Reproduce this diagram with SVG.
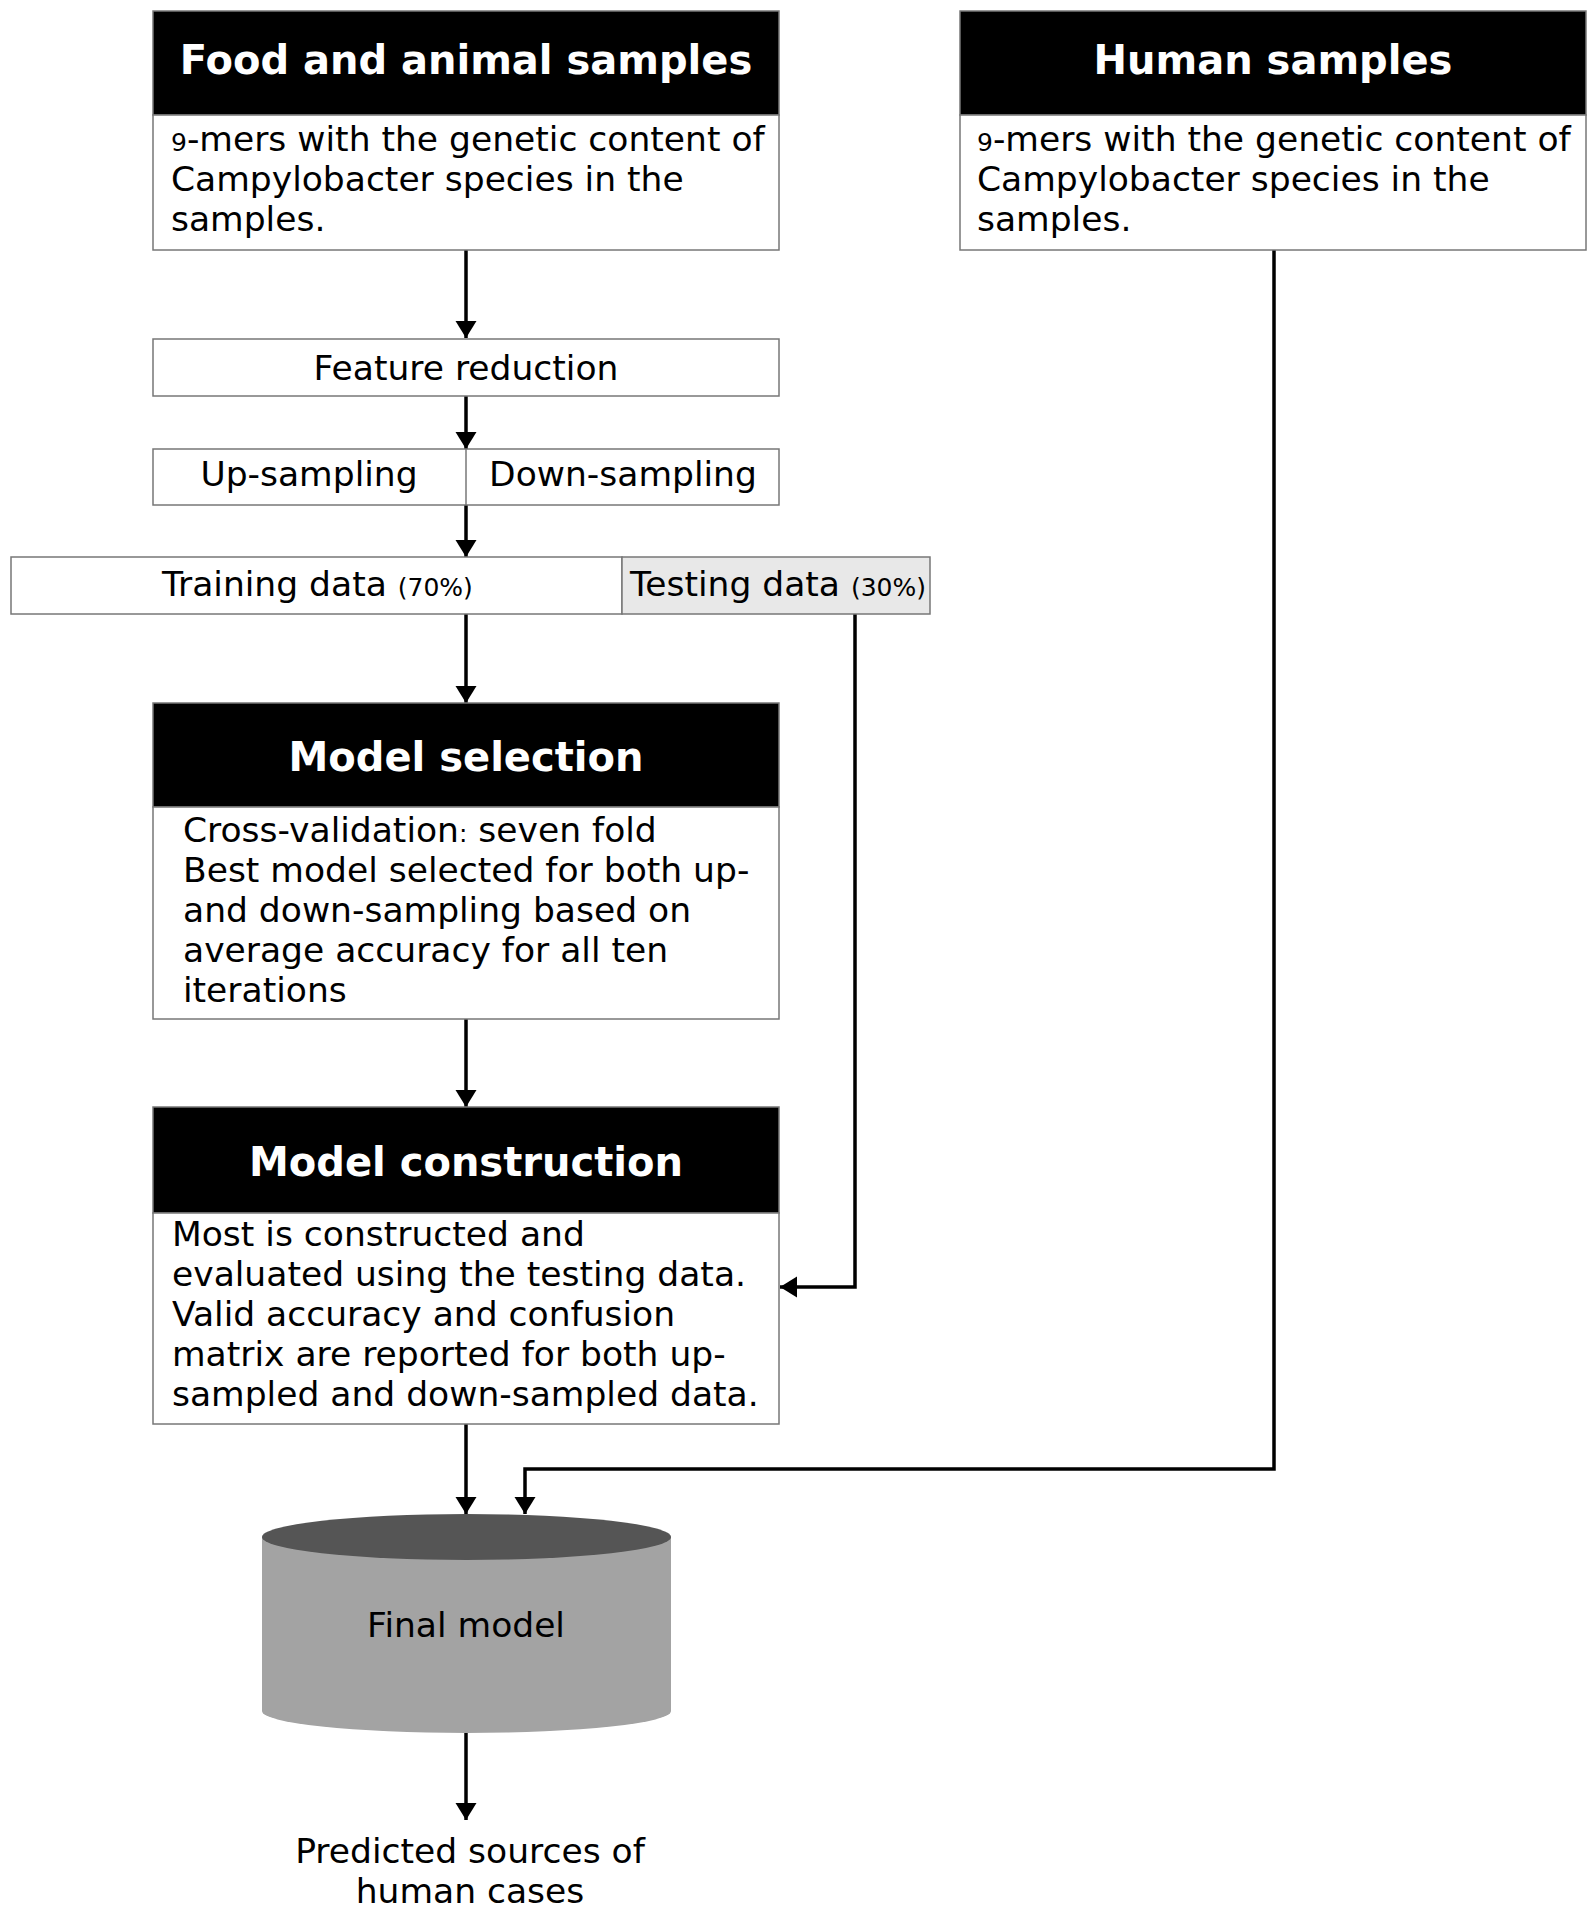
<svg xmlns="http://www.w3.org/2000/svg" width="1595" height="1910" viewBox="0 0 1595 1910">
<style>
.hdr{fill:#000;stroke:#777;stroke-width:1.5}
.box{fill:#fff;stroke:#777;stroke-width:1.5}
.ht{font-family:"DejaVu Sans",Verdana,sans-serif;font-weight:bold;font-size:40px;fill:#fff;text-anchor:middle}
.t{font-family:"DejaVu Sans",Verdana,sans-serif;font-size:34.5px;fill:#000}
.c{text-anchor:middle}
.sm{font-size:25px}
.conn{fill:none;stroke:#000;stroke-width:3.5}
</style>
<defs>
<marker id="ah" markerUnits="userSpaceOnUse" markerWidth="20" markerHeight="22" refX="17" refY="10.5" orient="auto">
<path d="M0,0 L17,10.5 L0,21 Z" fill="#000"/>
</marker>
</defs>
<g id="connectors">
<line class="conn" x1="466" y1="250" x2="466" y2="338" marker-end="url(#ah)"/>
<line class="conn" x1="466" y1="396" x2="466" y2="449" marker-end="url(#ah)"/>
<line class="conn" x1="466" y1="505" x2="466" y2="557" marker-end="url(#ah)"/>
<line class="conn" x1="466" y1="614" x2="466" y2="703" marker-end="url(#ah)"/>
<line class="conn" x1="466" y1="1019" x2="466" y2="1107" marker-end="url(#ah)"/>
<path class="conn" d="M855,614 V1287 H780" marker-end="url(#ah)"/>
<line class="conn" x1="466" y1="1424" x2="466" y2="1514" marker-end="url(#ah)"/>
<path class="conn" d="M1274,250 V1469 H525 V1514" marker-end="url(#ah)"/>
<line class="conn" x1="466" y1="1733" x2="466" y2="1820" marker-end="url(#ah)"/>
</g>
<g id="food">
<rect class="hdr" x="153" y="11" width="626" height="104"/>
<rect class="box" x="153" y="115" width="626" height="135"/>
<text class="ht" x="466" y="74">Food and animal samples</text>
<text class="t" x="171" y="151"><tspan class="sm">9</tspan>-mers with the genetic content of</text>
<text class="t" x="171" y="191">Campylobacter species in the</text>
<text class="t" x="171" y="231">samples.</text>
</g>
<g id="human">
<rect class="hdr" x="960" y="11" width="626" height="104"/>
<rect class="box" x="960" y="115" width="626" height="135"/>
<text class="ht" x="1273" y="74">Human samples</text>
<text class="t" x="977" y="151"><tspan class="sm">9</tspan>-mers with the genetic content of</text>
<text class="t" x="977" y="191">Campylobacter species in the</text>
<text class="t" x="977" y="231">samples.</text>
</g>
<g id="feature">
<rect class="box" x="153" y="339" width="626" height="57"/>
<text class="t c" x="466" y="380">Feature reduction</text>
</g>
<g id="sampling">
<rect class="box" x="153" y="449" width="626" height="56"/>
<line x1="466" y1="449" x2="466" y2="505" stroke="#777" stroke-width="1.5"/>
<text class="t c" x="309" y="486">Up-sampling</text>
<text class="t c" x="623" y="486">Down-sampling</text>
</g>
<g id="split">
<rect class="box" x="11" y="557" width="611" height="57"/>
<rect x="622" y="557" width="308" height="57" fill="#e8e8e8" stroke="#777" stroke-width="1.5"/>
<text class="t" x="162" y="596">Training data <tspan class="sm">(70%)</tspan></text>
<text class="t" x="630" y="596">Testing data <tspan class="sm">(30%)</tspan></text>
</g>
<g id="selection">
<rect class="hdr" x="153" y="703" width="626" height="104"/>
<rect class="box" x="153" y="807" width="626" height="212"/>
<text class="ht" x="466" y="771">Model selection</text>
<text class="t" x="183" y="842">Cross-validation<tspan class="sm">:</tspan> seven fold</text>
<text class="t" x="183" y="882">Best model selected for both up-</text>
<text class="t" x="183" y="922">and down-sampling based on</text>
<text class="t" x="183" y="962">average accuracy for all ten</text>
<text class="t" x="183" y="1002">iterations</text>
</g>
<g id="construction">
<rect class="hdr" x="153" y="1107" width="626" height="106"/>
<rect class="box" x="153" y="1213" width="626" height="211"/>
<text class="ht" x="466" y="1176">Model construction</text>
<text class="t" x="172" y="1246">Most is constructed and</text>
<text class="t" x="172" y="1286">evaluated using the testing data.</text>
<text class="t" x="172" y="1326">Valid accuracy and confusion</text>
<text class="t" x="172" y="1366">matrix are reported for both up-</text>
<text class="t" x="172" y="1406">sampled and down-sampled data.</text>
</g>
<g id="final">
<path d="M262,1537 V1711 A204.5,22 0 0 0 671,1711 V1537 Z" fill="#a3a3a3"/>
<ellipse cx="466.5" cy="1537" rx="204.5" ry="23" fill="#555"/>
<text class="t c" x="466" y="1637">Final model</text>
</g>
<g id="output">
<text class="t c" x="470" y="1863">Predicted sources of</text>
<text class="t c" x="470" y="1903">human cases</text>
</g>
</svg>
